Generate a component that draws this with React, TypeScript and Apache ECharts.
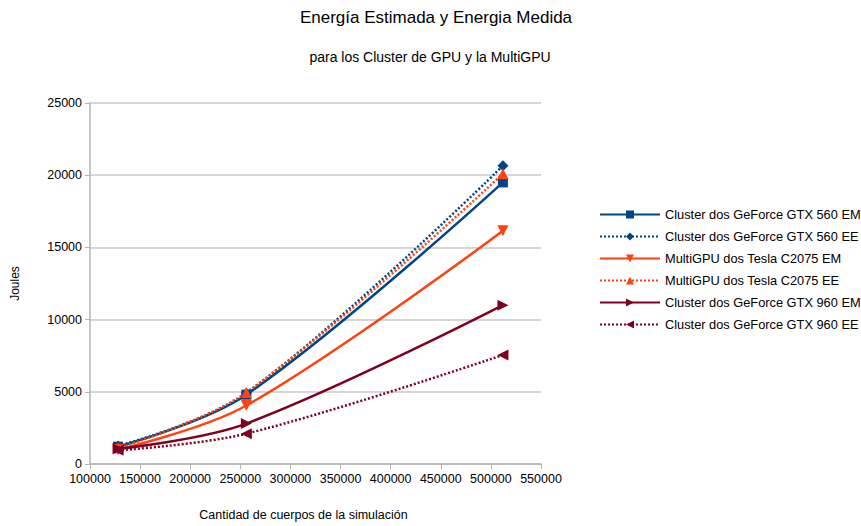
import React, { useEffect, useRef } from "react";
import * as echarts from "echarts";

const xValues = [128000, 256000, 512000];
const gtx560EM = [1200, 4800, 19500];
const gtx560EE = [1250, 4900, 20650];
const teslaEM = [1000, 4050, 16150];
const teslaEE = [1100, 4950, 20100];
const gtx960EM = [1050, 2800, 11000];
const gtx960EE = [950, 2100, 7550];

const seriesNames = [
  "Cluster dos GeForce GTX 560 EM",
  "Cluster dos GeForce GTX 560 EE",
  "MultiGPU dos Tesla C2075 EM",
  "MultiGPU dos Tesla C2075 EE",
  "Cluster dos GeForce GTX 960 EM",
  "Cluster dos GeForce GTX 960 EE",
];

const BLUE = "#004586";
const ORANGE = "#ff420e";
const RED = "#7e0021";
const FONT = "Liberation Sans, Arial, sans-serif";

function mk(name: string, vals: number[], color: string, dotted: boolean, symbol: string, rot: number, size: number) {
  return {
    name,
    type: "line",
    smooth: 0.35,
    data: xValues.map((x, i) => [x, vals[i]]),
    symbol,
    symbolRotate: rot,
    symbolSize: size,
    lineStyle: { color, width: 2.5, type: dotted ? [2, 2] : "solid" },
    itemStyle: { color },
  };
}

export default function App() {
  const ref = useRef<HTMLDivElement>(null);
  useEffect(() => {
    document.body.style.margin = "0";
    const chart = echarts.init(ref.current!, null, { renderer: "svg" });
    chart.setOption({
      animation: false,
      backgroundColor: "#ffffff",
      textStyle: { fontFamily: FONT },
      graphic: [
        { type: "text", x: 436, y: 9, style: { text: "Energía Estimada y Energia Medida", fontSize: 17, fontFamily: FONT, fill: "#000", textAlign: "center" } },
        { type: "text", x: 430, y: 50, style: { text: "para los Cluster de GPU y la MultiGPU", fontSize: 14, fontFamily: FONT, fill: "#000", textAlign: "center" } },
      ],
      grid: { left: 90, right: 320, top: 103, bottom: 61, containLabel: false },
      legend: {
        orient: "vertical",
        left: 594,
        top: 203,
        itemWidth: 60,
        itemHeight: 10,
        itemGap: 9,
        textStyle: { fontSize: 12.8, fontFamily: FONT, color: "#000" },
        data: seriesNames,
      },
      xAxis: {
        type: "value",
        min: 100000,
        max: 550000,
        interval: 50000,
        name: "Cantidad de cuerpos de la simulación",
        nameLocation: "middle",
        nameGap: 44,
        nameTextStyle: { fontSize: 12.5, color: "#000", fontFamily: FONT, padding: [0, 24, 0, 0] },
        axisLine: { show: true, lineStyle: { color: "#b3b3b3", width: 1.5 } },
        axisTick: { show: true, length: 5, lineStyle: { color: "#b3b3b3" } },
        axisLabel: { fontSize: 12.5, color: "#000", fontFamily: FONT, margin: 8, formatter: (v: number) => String(v) },
        splitLine: { show: false },
      },
      yAxis: {
        type: "value",
        min: 0,
        max: 25000,
        interval: 5000,
        name: "Joules",
        nameLocation: "middle",
        nameGap: 69,
        nameTextStyle: { fontSize: 12, color: "#000", fontFamily: FONT },
        axisLine: { show: true, lineStyle: { color: "#b3b3b3", width: 1.5 } },
        axisTick: { show: true, length: 5, lineStyle: { color: "#b3b3b3" } },
        axisLabel: { fontSize: 12.5, color: "#000", fontFamily: FONT, margin: 8, formatter: (v: number) => String(v) },
        splitLine: { show: true, lineStyle: { color: "#c8c8c8", width: 1.5 } },
      },
      series: [
        mk(seriesNames[0], gtx560EM, BLUE, false, "rect", 0, 10),
        mk(seriesNames[1], gtx560EE, BLUE, true, "diamond", 0, 11),
        mk(seriesNames[2], teslaEM, ORANGE, false, "triangle", 180, 11),
        mk(seriesNames[3], teslaEE, ORANGE, true, "triangle", 0, 11),
        mk(seriesNames[4], gtx960EM, RED, false, "triangle", -90, 11),
        mk(seriesNames[5], gtx960EE, RED, true, "triangle", 90, 11),
      ],
    });
    return () => chart.dispose();
  }, []);
  return <div ref={ref} style={{ width: 861, height: 526, position: "absolute", left: 0, top: 0 }} />;
}
